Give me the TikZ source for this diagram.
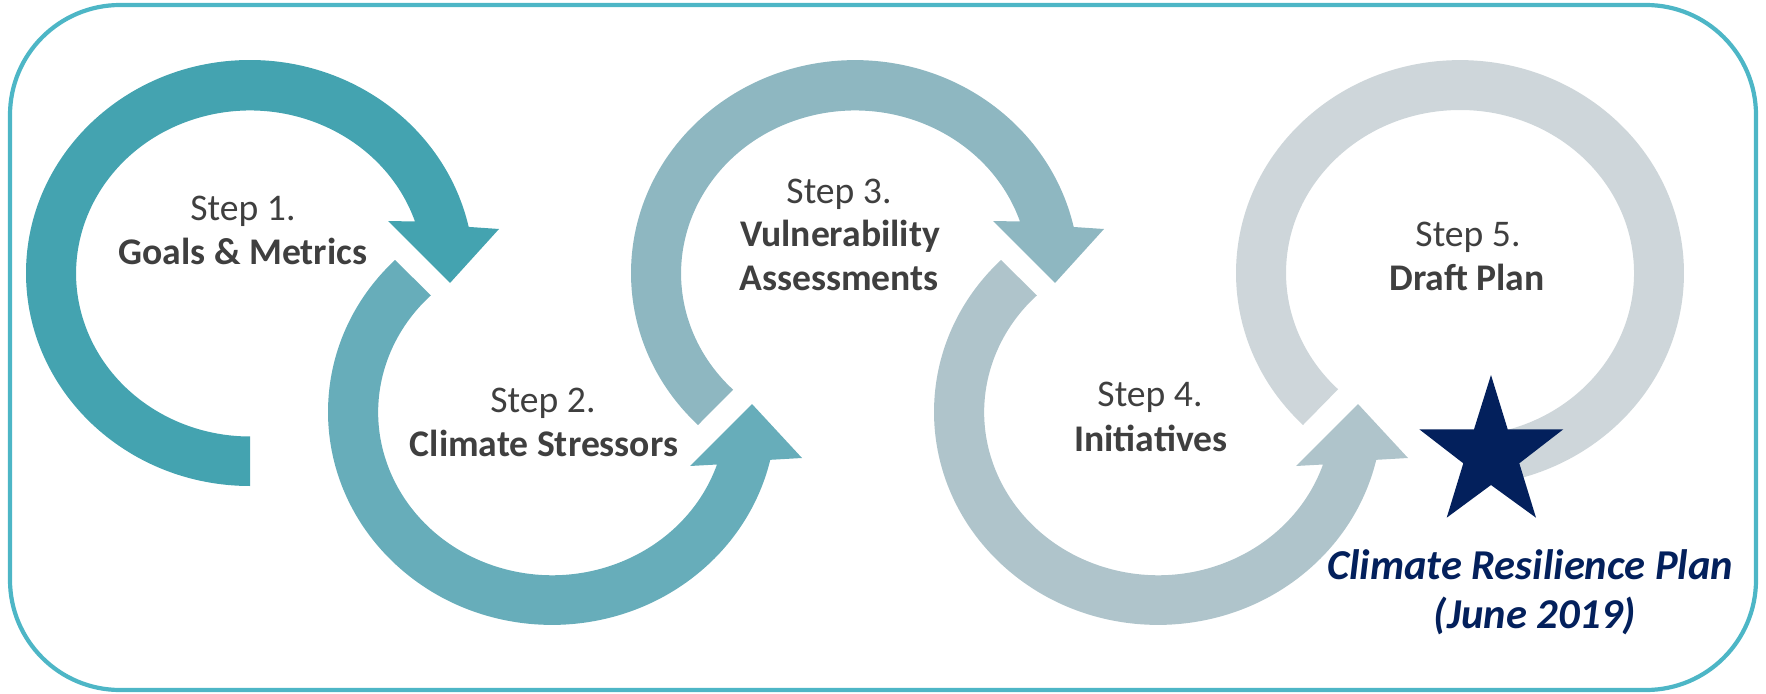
\documentclass[tikz,border=0pt]{standalone}
\usepackage{fontspec}
\setmainfont{Carlito}
\definecolor{frame}{HTML}{4DB6C6}
\definecolor{txtgray}{HTML}{3F3F3F}
\definecolor{ca}{HTML}{44A3B0}
\definecolor{cb}{HTML}{67ADBA}
\definecolor{cc}{HTML}{8EB7C1}
\definecolor{cd}{HTML}{AFC4CB}
\definecolor{ce}{HTML}{CED6DA}
\definecolor{navy}{HTML}{03205C}
\begin{document}
\begin{tikzpicture}[x=0.01cm,y=-0.01cm,
  lbl/.style={font=\fontsize{10.7}{13}\selectfont, text=txtgray, anchor=base, inner sep=0pt},
  ttl/.style={lbl, font=\fontsize{10.7}{13}\selectfont\bfseries},
  crp/.style={font=\fontsize{12.1}{14}\selectfont\bfseries\itshape, text=navy, anchor=base, inner sep=0pt},
  outer/.style={x radius=224, y radius=213},
  inner/.style={x radius=174, y radius=163}]
\useasboundingbox (0,0) rectangle (1766,694);
\draw[draw=frame, line width=0.042cm, rounded corners=1.1cm] (10,5) rectangle (1756,690);
% ring 1
\fill[ca] (250,486) arc[start angle=90,end angle=347.5,outer] -- (499,229) -- (450,283) -- (388,221) -- (415,221.5) arc[start angle=341.4,end angle=90,inner] -- cycle;
% ring 2
\fill[cb] (395,260) arc[start angle=225.5,end angle=13,outer] -- (802,458) -- (752,404) -- (690,466) -- (717,464.5) arc[start angle=18.7,end angle=225.8,inner] -- cycle;
% ring 3
\fill[cc] (698,425) arc[start angle=134.5,end angle=347.5,outer] -- (1104,229) -- (1055,283) -- (993,221) -- (1020,221.5) arc[start angle=341.4,end angle=134.5,inner] -- cycle;
% ring 4
\fill[cd] (1001,260) arc[start angle=225.5,end angle=13,outer] -- (1408,458) -- (1358,404) -- (1296,466) -- (1323,464.5) arc[start angle=18.7,end angle=225.8,inner] -- cycle;
% ring 5
\fill[ce] (1303,425) arc[start angle=134.5,end angle=448,outer] -- (1466.1,435.9) arc[start angle=448,end angle=134.5,inner] -- cycle;
% star
\fill[navy] (1491,375) -- (1507.7,429.3) -- (1563.3,429.3) -- (1519.3,463.3) -- (1536,517.7) -- (1491,485) -- (1446.7,517.7) -- (1463.3,463.3) -- (1419.3,429.3) -- (1474,429.3) -- cycle;
% labels
\node[lbl] (s1) at (243,220) {Step 1.};
\node[ttl] (t1) at (243,264) {Goals \& Metrics};
\node[lbl] (s2) at (543,412) {Step 2.};
\node[ttl] (t2) at (544,456) {Climate Stressors};
\node[lbl] (s3) at (839,203) {Step 3.};
\node[ttl] (t3a) at (840,246) {Vulnerability};
\node[ttl] (t3b) at (839,290) {Assessments};
\node[lbl] (s4) at (1150,406) {Step 4.};
\node[ttl] (t4) at (1151,451) {Initiatives};
\node[lbl] (s5) at (1468,246) {Step 5.};
\node[ttl] (t5) at (1467,290) {Draft Plan};
\node[crp] (p1) at (1530,579) {Climate Resilience Plan};
\node[crp] (p2) at (1535,628) {(June 2019)};
\end{tikzpicture}
\end{document}
